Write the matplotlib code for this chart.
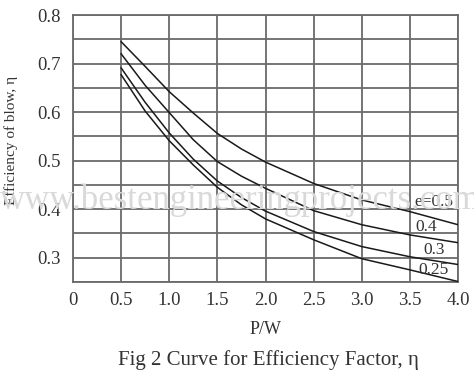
import matplotlib
matplotlib.use("Agg")
import matplotlib.pyplot as plt
import numpy as np

pw = [0.5, 0.75, 1.0, 1.25, 1.5, 1.75, 2.0, 2.5, 3.0, 3.5, 4.0]
eta_e050 = [0.745, 0.694, 0.642, 0.598, 0.556, 0.524, 0.497, 0.453, 0.419, 0.395, 0.368]
eta_e040 = [0.720, 0.655, 0.599, 0.543, 0.498, 0.468, 0.443, 0.397, 0.368, 0.347, 0.331]
eta_e030 = [0.691, 0.620, 0.557, 0.503, 0.458, 0.424, 0.396, 0.354, 0.323, 0.302, 0.286]
eta_e025 = [0.677, 0.602, 0.541, 0.491, 0.445, 0.409, 0.380, 0.337, 0.298, 0.275, 0.251]
curve_labels = ["e=0.5", "0.4", "0.3", "0.25"]
x_ticks = [0, 0.5, 1.0, 1.5, 2.0, 2.5, 3.0, 3.5, 4.0]
x_ticklabels = ["0", "0.5", "1.0", "1.5", "2.0", "2.5", "3.0", "3.5", "4.0"]
y_ticks = [0.3, 0.4, 0.5, 0.6, 0.7, 0.8]
y_ticklabels = ["0.3", "0.4", "0.5", "0.6", "0.7", "0.8"]

plt.rcParams['font.family'] = ['Liberation Serif', 'DejaVu Serif']
txt = '#333333'
gridc = '#6a6a6a'

fig = plt.figure(figsize=(4.74, 3.79), dpi=100)
ax = fig.add_axes([73/474, 1-282/379, (458-73)/474, (282-15)/379])

# watermark
fig.text(0.0, 1-200/379, "www.bestengineeringprojects.com", fontsize=25,
         color='#d9d9d9', va='center', ha='left', zorder=0)
ax.set_facecolor('none')

ax.set_xlim(0, 4.0)
ax.set_ylim(0.25, 0.8)
ax.set_xticks(x_ticks)
ax.set_xticklabels(x_ticklabels)
ax.set_yticks(y_ticks)
ax.set_yticklabels(y_ticklabels)
ax.set_yticks(np.arange(0.25, 0.801, 0.05), minor=True)
ax.grid(True, which='both', color=gridc, lw=1.3)
ax.tick_params(which='both', length=0, labelsize=13.5, colors=txt)
ax.tick_params(axis='x', pad=7)
ax.tick_params(axis='y', pad=9)
for s in ax.spines.values():
    s.set_color(gridc)
    s.set_linewidth(1.3)

for ys in [eta_e050, eta_e040, eta_e030, eta_e025]:
    ax.plot(pw, ys, color='#1a1a1a', lw=1.1, zorder=3)

label_pos = [(3.75, 0.415), (3.67, 0.364), (3.75, 0.316), (3.75, 0.275)]
for lab, (lx, ly) in zip(curve_labels, label_pos):
    ax.text(lx, ly, lab, fontsize=12.5, color=txt, ha='center', va='center', zorder=4)

ax.set_xlabel("P/W", fontsize=13, color=txt, labelpad=9)
ax.set_ylabel("Efficiency of blow, η", fontsize=11, color=txt, labelpad=8)
ax.yaxis.set_label_coords(-0.142, 0.53)

fig.text(268/474, 1-360/379, "Fig 2 Curve for Efficiency Factor, η", fontsize=15,
         color=txt, ha='center', va='center')

fig.savefig("out.png", dpi=100)
